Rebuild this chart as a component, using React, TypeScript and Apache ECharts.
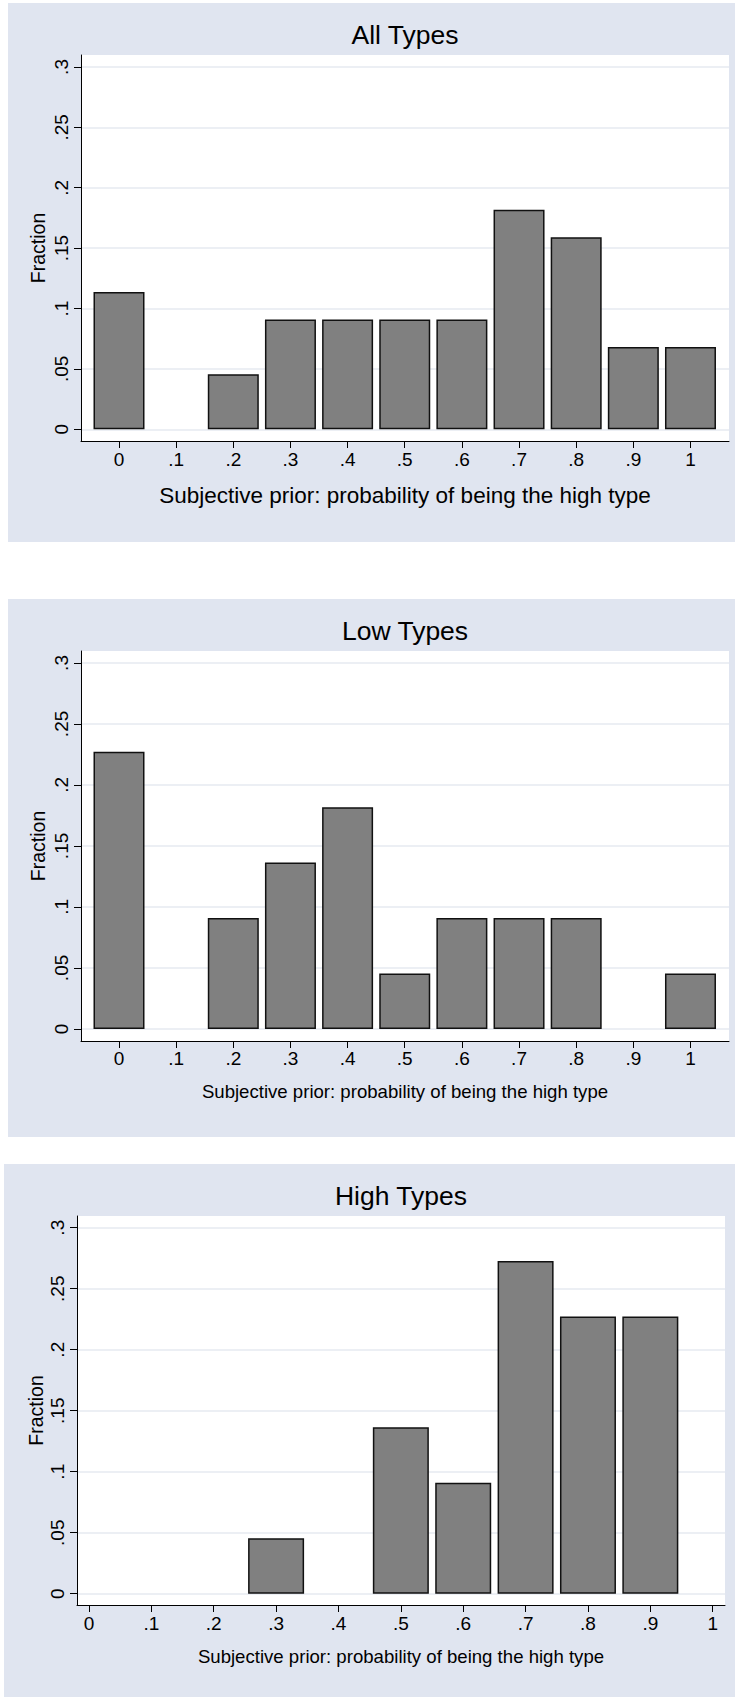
import React, { useEffect, useRef } from "react";
import * as echarts from "echarts";

// ---- data ----
const binCenters = [0, 0.1, 0.2, 0.3, 0.4, 0.5, 0.6, 0.7, 0.8, 0.9, 1];
const allTypes = [0.1136, 0, 0.0455, 0.0909, 0.0909, 0.0909, 0.0909, 0.1818, 0.1591, 0.0682, 0.0682];
const lowTypes = [0.2273, 0, 0.0909, 0.1364, 0.1818, 0.0455, 0.0909, 0.0909, 0.0909, 0, 0.0455];
const highTypes = [0, 0, 0, 0.0455, 0, 0.1364, 0.0909, 0.2727, 0.2273, 0.2273, 0];
const xTickValues = [0, 0.1, 0.2, 0.3, 0.4, 0.5, 0.6, 0.7, 0.8, 0.9, 1];
const xTickLabels = ["0", ".1", ".2", ".3", ".4", ".5", ".6", ".7", ".8", ".9", "1"];
const yTickValues = [0, 0.05, 0.1, 0.15, 0.2, 0.25, 0.3];
const yTickLabels = ["0", ".05", ".1", ".15", ".2", ".25", ".3"];
const panelTitles = ["All Types", "Low Types", "High Types"];
const xAxisTitle = "Subjective prior: probability of being the high type";
const yAxisTitle = "Fraction";

const FONT = '"Liberation Sans", Arial, Helvetica, sans-serif';
const BG = "#E0E5F0";
const GRID_LINE = "#E6EAF0";

// ---- layout (styles only) ----
const layouts = [
  {
    bg: { x: 8, y: 3, w: 727, h: 539 },
    grid: { left: 81, top: 55, width: 648, height: 386 },
    xr: [-0.0665, 1.0674], yr: [-0.0097, 0.3099],
    barW: 51, titleX: 405, titleY: 35, titleSize: 26.5,
    xNameSize: 22.5, xNameGap: 42.5, xLabelMargin: 9, yNameGap: 33.5,
  },
  {
    bg: { x: 8, y: 599, w: 727, h: 538 },
    grid: { left: 81, top: 651, width: 648, height: 390 },
    xr: [-0.0665, 1.0674], yr: [-0.0099, 0.3098],
    barW: 51, titleX: 405, titleY: 631, titleSize: 26.5,
    xNameSize: 18.6, xNameGap: 40.5, xLabelMargin: 8, yNameGap: 33.5,
  },
  {
    bg: { x: 4, y: 1164, w: 731, h: 533 },
    grid: { left: 77, top: 1216, width: 648, height: 389 },
    xr: [-0.0192, 1.0197], yr: [-0.00925, 0.3096],
    barW: 56, titleX: 401, titleY: 1196, titleSize: 26.5,
    xNameSize: 18.6, xNameGap: 41.5, xLabelMargin: 9, yNameGap: 31.5,
  },
];

const seriesValues = [allTypes, lowTypes, highTypes];

const lookup = (vals: number[], labels: string[]) => (v: number) => {
  const i = vals.findIndex((t) => Math.abs(t - v) < 1e-9);
  return i >= 0 ? labels[i] : "";
};

export default function App() {
  const ref = useRef<HTMLDivElement>(null);
  useEffect(() => {
    if (!ref.current) return;
    const chart = echarts.init(ref.current, null, { renderer: "svg" });
    const grids: any[] = [];
    const xAxes: any[] = [];
    const yAxes: any[] = [];
    const series: any[] = [];
    const graphics: any[] = [];
    layouts.forEach((L, i) => {
      graphics.push({
        type: "rect",
        z: -100,
        shape: { x: L.bg.x, y: L.bg.y, width: L.bg.w, height: L.bg.h },
        style: { fill: BG },
        silent: true,
      });
      graphics.push({
        type: "text",
        x: L.titleX,
        y: L.titleY,
        style: {
          text: panelTitles[i],
          fontSize: L.titleSize,
          fontFamily: FONT,
          fill: "#000",
          align: "center",
          verticalAlign: "middle",
          textAlign: "center",
          textVerticalAlign: "middle",
        },
      });
      grids.push({
        ...L.grid,
        show: true,
        backgroundColor: "#fff",
        borderWidth: 0,
        containLabel: false,
      });
      xAxes.push({
        type: "value",
        gridIndex: i,
        min: L.xr[0],
        max: L.xr[1],
        name: xAxisTitle,
        nameLocation: "middle",
        nameGap: L.xNameGap,
        nameMoveOverlap: false,
        nameTextStyle: { fontSize: L.xNameSize, fontFamily: FONT, color: "#000" },
        axisLine: { show: true, onZero: false, lineStyle: { color: "#000", width: 1 } },
        axisTick: { show: true, length: 7, customValues: xTickValues, lineStyle: { color: "#000", width: 1 } },
        axisLabel: {
          customValues: xTickValues,
          formatter: lookup(xTickValues, xTickLabels),
          fontSize: 19,
          fontFamily: FONT,
          color: "#000",
          margin: L.xLabelMargin,
        },
        splitLine: { show: false },
      });
      yAxes.push({
        type: "value",
        gridIndex: i,
        min: L.yr[0],
        max: L.yr[1],
        name: yAxisTitle,
        nameLocation: "middle",
        nameGap: L.yNameGap,
        nameMoveOverlap: false,
        nameTextStyle: { fontSize: 19.5, fontFamily: FONT, color: "#000" },
        axisLine: { show: true, onZero: false, lineStyle: { color: "#000", width: 1 } },
        axisTick: { show: true, length: 7, customValues: yTickValues, lineStyle: { color: "#000", width: 1 } },
        axisLabel: {
          customValues: yTickValues,
          formatter: lookup(yTickValues, yTickLabels),
          rotate: 90,
          fontSize: 19,
          fontFamily: FONT,
          color: "#000",
          margin: 10,
        },
        splitLine: { show: true, lineStyle: { color: GRID_LINE, width: 1.5 } },
      });
      series.push({
        type: "bar",
        xAxisIndex: i,
        yAxisIndex: i,
        barWidth: L.barW,
        itemStyle: { color: "#808080", borderColor: "#111", borderWidth: 1.5 },
        data: binCenters
          .map((c, k) => [c, seriesValues[i][k]])
          .filter((d) => d[1] > 0),
      });
    });
    chart.setOption({
      animation: false,
      backgroundColor: "#fff",
      grid: grids,
      xAxis: xAxes,
      yAxis: yAxes,
      series,
      graphic: graphics,
    });
    return () => chart.dispose();
  }, []);
  return (
    <div
      ref={ref}
      style={{ position: "absolute", left: 0, top: 0, width: 735, height: 1697 }}
    />
  );
}
